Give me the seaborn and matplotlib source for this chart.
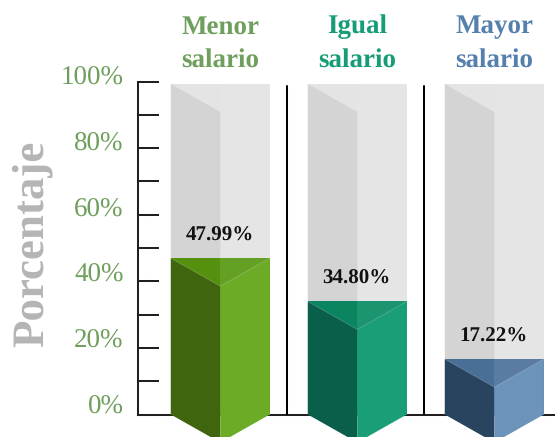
import matplotlib
matplotlib.use("Agg")
import matplotlib.pyplot as plt
import pandas as pd
import seaborn as sns

categories = ["Menor\nsalario", "Igual\nsalario", "Mayor\nsalario"]
values = [47.99, 34.80, 17.22]
value_labels = ["47.99%", "34.80%", "17.22%"]
tick_labels = ["0%", "20%", "40%", "60%", "80%", "100%"]
title_colors = ["#6f9f5c", "#169c77", "#5580ad"]
left_colors = ["#3f660f", "#0a5f4b", "#28445f"]
right_colors = ["#6cab26", "#1a9e78", "#6c94ba"]
top_left_colors = ["#55900f", "#0b8460", "#4a6f97"]
top_right_colors = ["#64a024", "#1d9470", "#5a7ba2"]
track_top = 101.1
depth = 8.54
base = 0.335

W, H = 555, 437
SERIF = "Liberation Serif"
sns.set_theme(style="white")
plt.rcParams["font.family"] = SERIF
plt.rcParams["text.hinting"] = "no_hinting"
plt.rcParams["text.hinting_factor"] = 1
fig = plt.figure(figsize=(W / 100, H / 100), dpi=100)


def box(x0, ytop, x1, ybot):
    return [x0 / W, 1 - ybot / H, (x1 - x0) / W, (ybot - ytop) / H]


# axis with ticks every 10%
ax_t = fig.add_axes(box(138, 81.5, 555, 414.5), zorder=1)
ax_t.set_ylim(0, 100)
ax_t.set_xlim(0, 1)
ax_t.set_xticks([])
ax_t.set_yticks(range(0, 101, 10))
ax_t.set_yticklabels([])
ax_t.tick_params(axis="y", direction="in", length=15, width=1.45, color="#231f20", left=True)
for s in ["top", "right"]:
    ax_t.spines[s].set_visible(False)
for s in ["left", "bottom"]:
    ax_t.spines[s].set_linewidth(1.45)
    ax_t.spines[s].set_color("#231f20")
ax_t.patch.set_alpha(0)

# percent labels
ax_l = fig.add_axes(box(138, 75.5, 555, 404), zorder=1)
ax_l.set_ylim(0, 100)
ax_l.set_xticks([])
ax_l.set_yticks(range(0, 101, 20))
ax_l.set_yticklabels(tick_labels, fontsize=19.4, color="#6f9f5c", family=SERIF)
ax_l.tick_params(axis="y", length=0, pad=10.3, left=True)
for s in ax_l.spines.values():
    s.set_visible(False)
ax_l.patch.set_alpha(0)

# bars
ax = fig.add_axes(box(138, 81.5, 555, 414.5), zorder=2)
ax.patch.set_alpha(0)
track = pd.DataFrame({
    "cat": categories * 2,
    "face": ["L"] * 3 + ["R"] * 3,
    "v": [track_top] * 6,
})
fill = pd.DataFrame({
    "cat": categories * 2,
    "face": ["L"] * 3 + ["R"] * 3,
    "v": values * 2,
})
bw = 99 / 137
sns.barplot(data=track, x="cat", y="v", hue="face", order=categories, dodge=True, width=bw,
            gap=0, saturation=1, palette=["#e4e4e4", "#e5e5e5"], legend=False, ax=ax, zorder=2)
n_track = len(ax.patches)
sns.barplot(data=fill, x="cat", y="v", hue="face", order=categories, dodge=True, width=bw,
            gap=0, saturation=1, palette=["#888888", "#999999"], legend=False, ax=ax, zorder=3)
for i, p in enumerate(ax.patches[n_track:]):
    p.set_facecolor((top_left_colors + top_right_colors)[i])
    p.set_edgecolor("none")
for p in ax.patches[:n_track]:
    p.set_edgecolor("none")
ax.set_xlim((138 - 220.3) / 137, (555 - 220.3) / 137)
ax.set_ylim(base, base + 333 / 3.28)
ax.set_xlabel("")
ax.set_ylabel("")
ax.set_xticks([])
ax.set_yticks([])
for s in ax.spines.values():
    s.set_visible(False)

hw = bw / 2
for i, v in enumerate(values):
    # grey inner left wall of the track
    ax.fill([i - hw, i, i, i - hw], [track_top, track_top - depth, base, base],
            color="#d4d4d4", lw=0, zorder=2.5)
    # front faces, running below the baseline
    ax.fill([i - hw, i, i, i - hw], [v, v - depth, base - depth, base],
            color=left_colors[i], lw=0, zorder=4, clip_on=False)
    ax.fill([i, i + hw, i + hw, i], [v - depth, v, base, base - depth],
            color=right_colors[i], lw=0, zorder=4, clip_on=False)
    ax.plot([i - hw, i, i + hw], [v, v - depth, v], color="white", lw=0.5, alpha=0.25, zorder=5)
    ax.annotate(value_labels[i], (i, v), xytext=(-0.5, 16.5), textcoords="offset points",
                ha="center", va="center", fontsize=15, fontweight="bold", color="#111111",
                family=SERIF, zorder=6)
    ax.text(i, 1 + (81.5 - 44) / 333, categories[i], transform=ax.get_xaxis_transform(),
            ha="center", va="center", fontsize=19.4, fontweight="bold", color=title_colors[i],
            family=SERIF, linespacing=1.5)

for xd in [0.485, 1.49]:
    ax.axvline(xd, ymin=0, ymax=1 - (86 - 81.5) / 333, color="black", lw=1.45, zorder=1.5)

fig.text(32 / W, 1 - 244 / H, "Porcentaje", rotation=90, ha="center", va="center",
         fontsize=32.5, fontweight="bold", color="#b5b5b5", family=SERIF)

fig.savefig("out.png", dpi=100)
